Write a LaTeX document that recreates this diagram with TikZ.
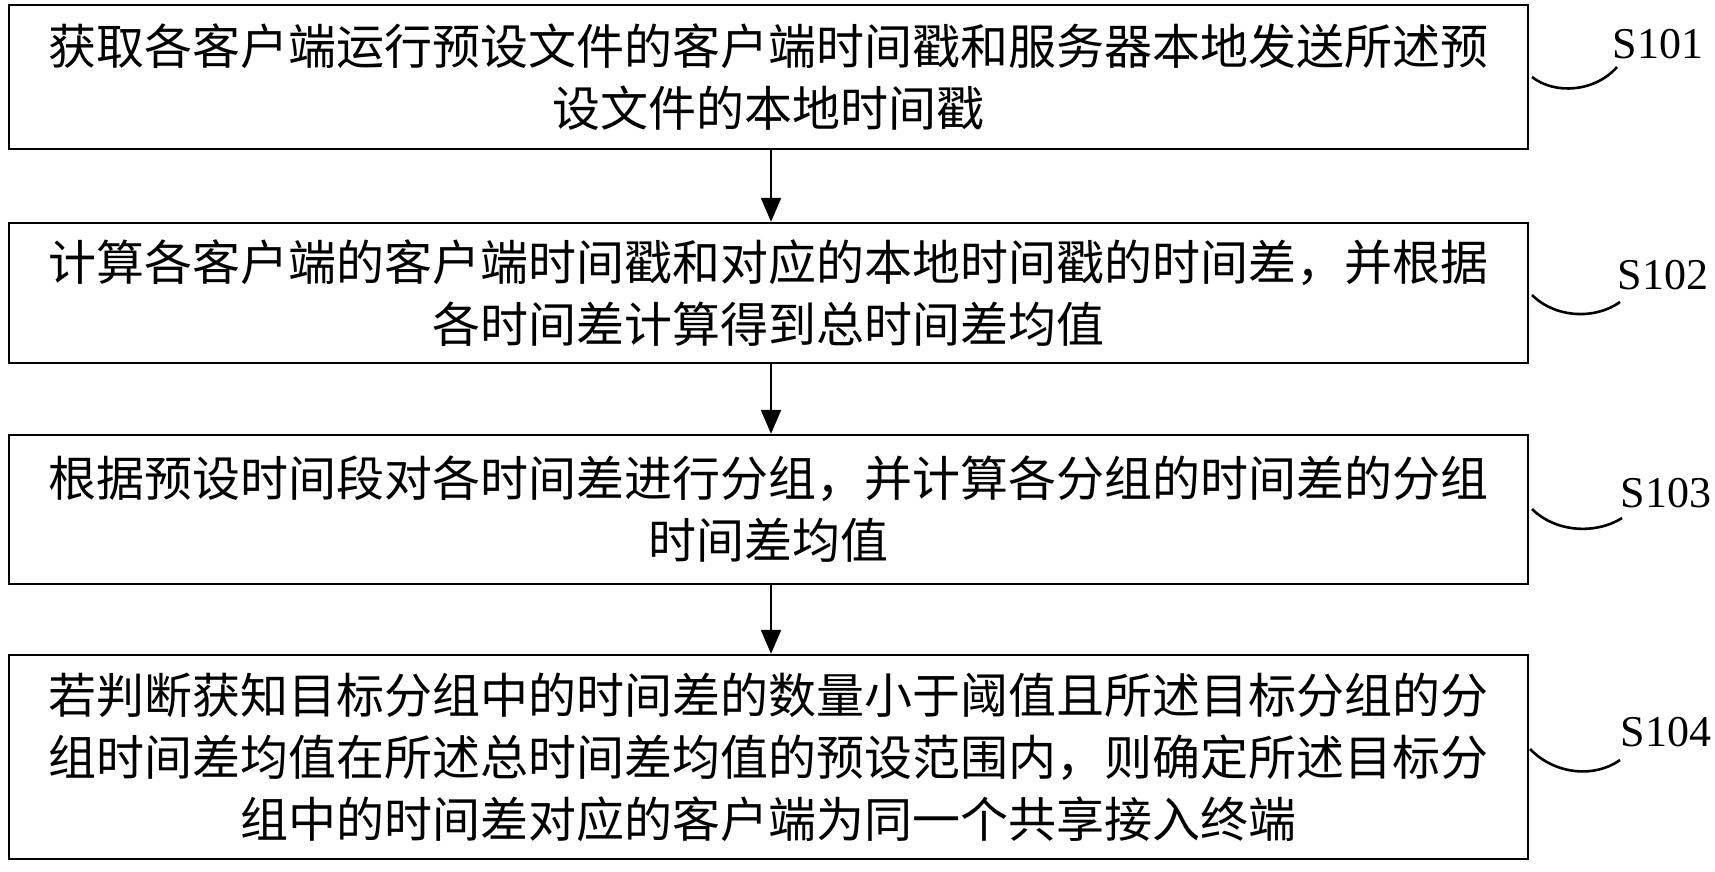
\documentclass[tikz,border=0pt]{standalone}
\usepackage{fontspec}
\setmainfont{Liberation Serif}
\newfontfamily\cjk{Noto Sans CJK SC}
\usetikzlibrary{arrows.meta}
\begin{document}
\begin{tikzpicture}[x=1pt,y=-1pt,
  box/.style={draw,line width=2.4pt,minimum width=1519pt,inner sep=0pt,align=center,font=\cjk\fontsize{48}{62}\selectfont},
  arr/.style={line width=2.2pt,-{Triangle[length=24pt,width=20pt]}},
  lab/.style={font=\fontsize{44}{44}\selectfont},
  crv/.style={line width=2.6pt}]
\useasboundingbox (0,0) rectangle (1715,872);
\node[box,minimum height=144pt] (b1) at (768.5,77) {获取各客户端运行预设文件的客户端时间戳和服务器本地发送所述预\\设文件的本地时间戳};
\node[box,minimum height=140pt] (b2) at (768.5,293) {计算各客户端的客户端时间戳和对应的本地时间戳的时间差，并根据\\各时间差计算得到总时间差均值};
\node[box,minimum height=149pt] (b3) at (768.5,509.5) {根据预设时间段对各时间差进行分组，并计算各分组的时间差的分组\\时间差均值};
\node[box,minimum height=204pt] (b4) at (768.5,757) {若判断获知目标分组中的时间差的数量小于阈值且所述目标分组的分\\组时间差均值在所述总时间差均值的预设范围内，则确定所述目标分\\组中的时间差对应的客户端为同一个共享接入终端};
\draw[arr] (b1.south -| 771,0) -- (b2.north -| 771,0);
\draw[arr] (b2.south -| 771,0) -- (b3.north -| 771,0);
\draw[arr] (b3.south -| 771,0) -- (b4.north -| 771,0);
\node[lab] (l1) at (1658,44) {S101};
\node[lab] (l2) at (1663,275) {S102};
\node[lab] (l3) at (1666,493) {S103};
\node[lab] (l4) at (1666,732) {S104};
\coordinate (c1) at (1532,77); \coordinate (d1) at (1617,67);
\coordinate (c2) at (1532,295); \coordinate (d2) at (1620,302);
\coordinate (c3) at (1532,509); \coordinate (d3) at (1622,518);
\coordinate (c4) at (1530,749); \coordinate (d4) at (1620,760);
\draw[crv] (c1) .. controls (1555,95) and (1595,92) .. (d1);
\draw[crv] (c2) .. controls (1555,318) and (1595,320) .. (d2);
\draw[crv] (c3) .. controls (1555,532) and (1595,535) .. (d3);
\draw[crv] (c4) .. controls (1555,775) and (1595,778) .. (d4);
\end{tikzpicture}
\end{document}
